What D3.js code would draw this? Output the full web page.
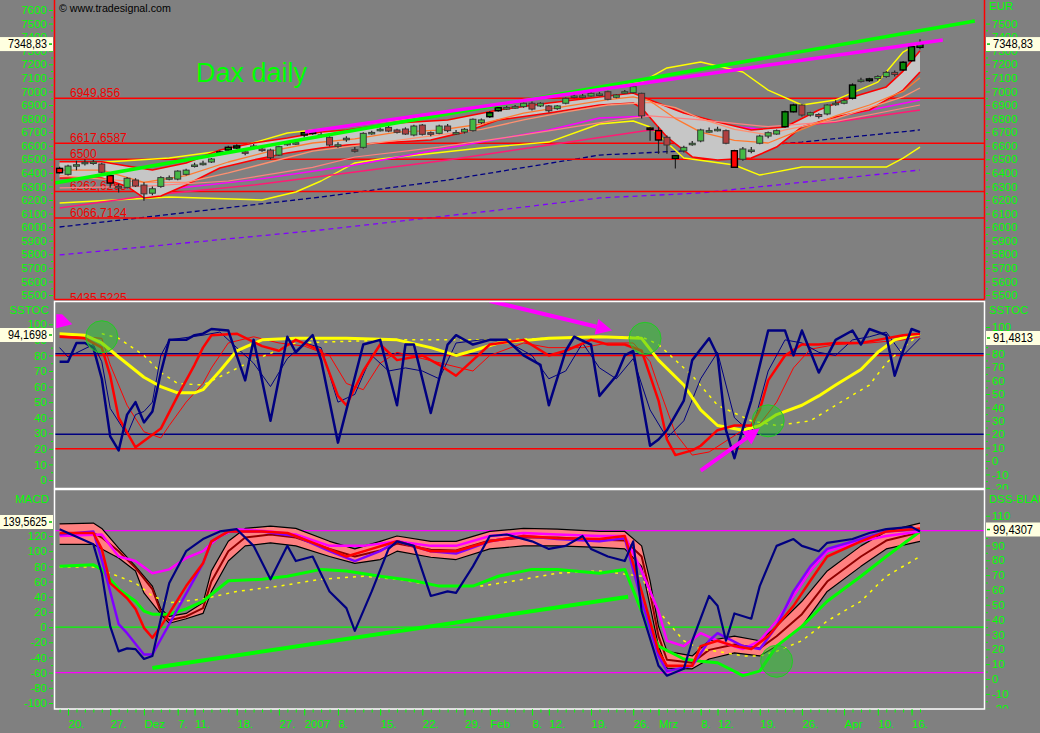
<!DOCTYPE html>
<html><head><meta charset="utf-8">
<script src="https://cdn.jsdelivr.net/npm/d3@7"></script>
<style>
body{margin:0;background:#808080;}
svg{display:block;}
text{font-family:"Liberation Sans",Arial,sans-serif;}
</style>
</head><body>
<svg id="c" width="1040" height="733"></svg>
<script>
// ---------------- DATA ----------------
const dates = ["2006-11-17","2006-11-20","2006-11-21","2006-11-22","2006-11-23","2006-11-24","2006-11-27","2006-11-28","2006-11-29","2006-11-30",
"2006-12-01","2006-12-04","2006-12-05","2006-12-06","2006-12-07","2006-12-08","2006-12-11","2006-12-12","2006-12-13","2006-12-14","2006-12-15","2006-12-18","2006-12-19","2006-12-20","2006-12-21","2006-12-22","2006-12-27","2006-12-28","2006-12-29",
"2007-01-02","2007-01-03","2007-01-04","2007-01-05","2007-01-08","2007-01-09","2007-01-10","2007-01-11","2007-01-12","2007-01-15","2007-01-16","2007-01-17","2007-01-18","2007-01-19","2007-01-22","2007-01-23","2007-01-24","2007-01-25","2007-01-26","2007-01-29","2007-01-30","2007-01-31",
"2007-02-01","2007-02-02","2007-02-05","2007-02-06","2007-02-07","2007-02-08","2007-02-09","2007-02-12","2007-02-13","2007-02-14","2007-02-15","2007-02-16","2007-02-19","2007-02-20","2007-02-21","2007-02-22","2007-02-23","2007-02-26","2007-02-27","2007-02-28",
"2007-03-01","2007-03-02","2007-03-05","2007-03-06","2007-03-07","2007-03-08","2007-03-09","2007-03-12","2007-03-13","2007-03-14","2007-03-15","2007-03-16","2007-03-19","2007-03-20","2007-03-21","2007-03-22","2007-03-23","2007-03-26","2007-03-27","2007-03-28","2007-03-29","2007-03-30",
"2007-04-02","2007-04-03","2007-04-04","2007-04-05","2007-04-10","2007-04-11","2007-04-12","2007-04-13","2007-04-16","2007-04-17"];

const open  = [6433,6389,6455,6470,6475,6465,6380,6300,6293,6347,6310,6250,6300,6360,6354,6389,6455,6468,6480,6539,6568,6583,6555,6596,6575,6568,6531,6615,6620,6679,6690,6680,6662,6605,6650,6570,6588,6694,6718,6735,6716,6723,6679,6752,6696,6691,6745,6695,6701,6711,6770,6814,6858,6878,6885,6888,6913,6893,6893,6873,6913,6964,6965,6966,6980,6998,6957,6996,6991,6986,6730,6711,6662,6507,6562,6615,6635,6710,6720,6711,6563,6500,6565,6618,6671,6686,6740,6850,6900,6826,6830,6834,6910,6913,6950,7080,7080,7095,7110,7140,7158,7226,7325];
const high  = [6445,6460,6490,6500,6495,6475,6385,6320,6370,6360,6330,6300,6375,6380,6420,6430,6475,6490,6510,6565,6600,6610,6575,6612,6595,6578,6600,6630,6640,6700,6715,6700,6670,6625,6670,6590,6700,6710,6735,6745,6725,6735,6755,6760,6705,6755,6760,6715,6730,6800,6800,6855,6885,6895,6900,6920,6925,6920,6900,6900,6955,6985,6982,6995,6995,7005,6980,7010,7045,6990,6740,6740,6675,6530,6600,6635,6725,6735,6740,6720,6570,6590,6590,6680,6705,6720,6860,6910,6905,6850,6840,6905,6935,6945,7060,7100,7100,7120,7150,7155,7225,7340,7384];
const low   = [6395,6380,6420,6455,6460,6395,6290,6255,6285,6295,6195,6235,6290,6345,6345,6380,6440,6455,6472,6530,6560,6575,6530,6585,6555,6500,6525,6600,6605,6660,6680,6660,6595,6585,6630,6550,6580,6680,6705,6700,6690,6680,6670,6675,6670,6685,6700,6680,6690,6705,6760,6805,6850,6865,6872,6880,6860,6885,6845,6865,6905,6950,6950,6960,6965,6935,6950,6985,6985,6800,6637,6540,6540,6433,6550,6600,6625,6695,6705,6610,6440,6490,6545,6610,6655,6680,6735,6845,6815,6815,6800,6825,6895,6905,6940,7065,7070,7080,7100,7110,7150,7220,7310];
const close = [6401,6450,6460,6478,6480,6404,6325,6290,6360,6303,6245,6283,6365,6364,6413,6420,6458,6471,6502,6554,6588,6598,6551,6598,6573,6512,6593,6618,6622,6696,6705,6679,6605,6607,6655,6568,6691,6698,6721,6708,6699,6686,6745,6684,6684,6745,6711,6697,6721,6795,6790,6843,6880,6881,6888,6913,6870,6913,6858,6893,6949,6966,6967,6986,6981,6942,6974,6998,7035,6820,6720,6642,6605,6526,6588,6618,6716,6711,6721,6618,6441,6576,6568,6671,6696,6711,6850,6900,6826,6843,6815,6900,6913,6932,7047,7084,7092,7110,7140,7125,7215,7330,7349];
const signalUp   = [19,20,21,29,30,51,52,73,86,87,94,96,100,101,102];
const signalDown = [0,6,70,71,80];

// price-panel indicator lines: [day index, price]
const bandUpper = [[0,6482],[5,6482],[8,6450],[11,6421],[15,6473],[19,6568],[23,6620],[27,6657],[31,6701],[34,6716],[40,6767],[46,6789],[52,6863],[58,6915],[64,6959],[68,6988],[70,6937],[74,6841],[78,6775],[82,6716],[86,6738],[90,6863],[94,6959],[98,7033],[100,7150],[102,7300]];
const bandLower = [[0,6362],[5,6362],[8,6300],[10,6215],[12,6230],[15,6310],[19,6436],[23,6495],[27,6546],[31,6583],[34,6605],[40,6627],[44,6642],[48,6700],[52,6789],[58,6841],[64,6900],[68,6915],[69,6878],[72,6664],[75,6517],[78,6495],[82,6509],[85,6590],[88,6738],[92,6812],[96,6863],[100,7010],[102,7143]];
const maOrange  = [[0,6420],[5,6420],[10,6330],[15,6380],[20,6480],[25,6560],[30,6620],[35,6650],[40,6700],[45,6715],[50,6760],[55,6840],[60,6890],[65,6940],[68,6960],[70,6930],[73,6800],[76,6700],[80,6640],[84,6620],[88,6720],[92,6820],[96,6900],[100,7000],[102,7100]];
const maSalmon  = [[0,6380],[10,6330],[15,6330],[20,6400],[25,6480],[30,6560],[35,6600],[40,6640],[45,6680],[50,6720],[55,6790],[60,6850],[65,6900],[70,6920],[73,6880],[76,6800],[80,6720],[84,6680],[86,6716],[88,6740],[92,6800],[96,6880],[100,6960],[102,7025]];
const maRose    = [[0,6290],[10,6300],[20,6340],[30,6440],[35,6517],[45,6590],[55,6680],[65,6780],[70,6820],[76,6790],[84,6740],[92,6780],[102,6900]];
const maMagenta = [[12,6274],[23,6348],[31,6421],[35,6458],[46,6583],[58,6716],[64,6804],[70,6819],[76,6767],[84,6716],[92,6812],[102,6937]];
const maPink    = [[0,6141],[11,6237],[23,6310],[35,6406],[46,6495],[58,6605],[70,6716],[76,6701],[80,6694],[92,6775],[102,6863]];
const envUpper  = [[0,6458],[13,6509],[20,6568],[27,6694],[32,6730],[40,6789],[52,6900],[64,7033],[69,7069],[72,7173],[76,7217],[81,7143],[84,7010],[88,6900],[92,6937],[97,7069],[100,7290],[102,7360]];
const envLower  = [[0,6178],[13,6222],[24,6200],[28,6259],[31,6340],[35,6473],[38,6502],[50,6583],[58,6627],[64,6760],[68,6782],[70,6738],[74,6509],[80,6458],[83,6384],[88,6443],[98,6443],[100,6509],[102,6590]];
const maNavy    = [[0,6001],[31,6222],[46,6347],[64,6531],[76,6568],[88,6627],[102,6716]];
const maPurple  = [[0,5795],[31,5979],[53,6133],[64,6215],[76,6252],[102,6421]];
const trendGreen   = [[-0.55,6325],[108.5,7519]];
const trendMagenta = [[29.1,6701],[104.7,7379]];
const levels      = [6949.856,6617.6587,6500,6262.6263,6066.7124,5435.5225];
const levelLabels = ["6949,856","6617,6587","6500","6262,6263","6066,7124","5435,5225"];

// SSTOC panel: [day index, value]
const stochFast = [[0,76],[1,76],[2,88],[3,88],[4,85],[5,65],[6,28],[7,19],[8,42],[9,50],[10,37],[11,44],[12,69],[13,90],[14,90],[15,90],[16,93],[17,94],[18,97],[20,96],[22,64],[23,90],[24,64],[25,38],[27,92],[28,82],[30,93],[31,77],[33,24],[34,45],[36,87],[38,90],[40,48],[41,87],[42,87],[44,43],[46,87],[47,93],[49,87],[51,90],[53,90],[55,80],[57,74],[58,48],[60,83],[61,92],[63,87],[64,54],[66,67],[67,80],[68,83],[70,22],[71,26],[72,32],[74,51],[75,77],[77,91],[78,80],[79,32],[80,14],[81,33],[82,51],[84,96],[86,96],[87,80],[88,96],[90,69],[92,90],[94,96],[95,87],[96,97],[98,93],[99,67],[100,83],[101,97],[102,95]];
const stochFastD = [[0,85],[1,79],[4,87],[5,76],[6,46],[8,29],[9,42],[10,44],[11,50],[12,80],[13,90],[17,93],[19,95],[21,85],[23,75],[25,60],[27,78],[29,88],[31,85],[33,50],[35,55],[37,80],[39,70],[41,72],[43,70],[45,65],[47,88],[50,90],[53,89],[56,80],[58,65],[60,70],[62,88],[64,72],[66,65],[68,78],[70,45],[72,27],[74,38],[76,65],[78,82],[80,40],[82,30],[84,70],[86,90],[88,88],[90,82],[92,80],[94,90],[96,92],[98,95],[100,80],[102,91]];
const stochSlow = [[0,92],[3,91],[5,85],[6,67],[7,40],[9,21],[11,29],[12,33],[14,54],[16,74],[17,85],[18,93],[21,94],[24,86],[26,83],[28,90],[31,83],[33,54],[34,48],[36,70],[38,87],[40,77],[43,80],[45,74],[47,67],[49,77],[51,87],[55,90],[58,80],[60,83],[63,90],[65,87],[67,87],[69,83],[71,51],[72,26],[73,16],[75,19],[76,22],[78,32],[80,35],[82,35],[83,45],[84,64],[86,80],[88,87],[90,87],[92,88],[95,88],[97,90],[100,93],[102,94]];
const stochSlowD = [[0,93],[5,91],[6,74],[8,48],[10,31],[12,27],[13,35],[15,50],[17,62],[18,72],[20,88],[23,92],[26,88],[29,86],[32,80],[34,62],[36,58],[38,75],[40,82],[43,78],[46,74],[49,70],[51,80],[55,88],[58,85],[62,85],[65,88],[68,88],[70,76],[71,60],[73,30],[75,16],[77,18],[79,25],[81,32],[83,36],[85,50],[87,72],[89,84],[92,87],[96,88],[100,90],[102,92]];
const stochLong = [[0,94],[3,93],[5,88],[7,79],[10,66],[12,60],[14,56],[16,56],[17,58],[19,70],[21,83],[24,90],[28,91],[34,91],[40,90],[44,85],[47,80],[49,83],[52,88],[58,91],[64,92],[69,91],[71,77],[74,61],[76,45],[78,35],[81,32],[83,35],[85,42],[88,48],[90,54],[92,61],[95,71],[97,82],[99,90],[102,94]];
const stochLongD = [[5,94],[7,91],[10,80],[12,69],[14,62],[17,61],[23,77],[28,88],[40,90],[52,90],[64,92],[69,92],[71,87],[75,67],[78,48],[82,38],[85,35],[89,38],[92,48],[96,61],[98,75],[100,85],[102,94]];

// MACD / DSS panel: [day index, value]
const ribbonUpper = [[0,136],[4,137],[5,130],[7,104],[9,80],[11,54],[12,24],[13,14],[15,18],[17,32],[18,74],[20,113],[22,130],[25,133],[28,130],[32,113],[35,103],[38,113],[40,120],[44,113],[47,113],[51,126],[55,130],[59,129],[64,126],[67,126],[69,107],[70,61],[71,1],[72,-32],[75,-38],[77,-18],[80,-12],[83,-18],[85,1],[88,34],[91,74],[95,107],[98,126],[102,137]];
const ribbonLower = [[0,109],[4,109],[5,103],[7,91],[9,74],[10,45],[12,17],[13,5],[15,11],[17,18],[18,47],[20,87],[22,107],[25,111],[28,107],[32,93],[35,84],[38,89],[40,100],[44,92],[47,89],[51,103],[55,107],[59,107],[64,105],[67,103],[69,80],[70,28],[71,-25],[72,-54],[75,-55],[77,-42],[80,-34],[83,-38],[85,-25],[88,1],[91,47],[95,80],[98,103],[102,113]];
const ribbonMid = [[0,122],[4,124],[5,118],[7,100],[9,78],[11,50],[12,20],[13,9],[15,14],[17,25],[18,60],[20,100],[22,118],[25,122],[28,118],[32,103],[35,93],[38,101],[40,110],[44,102],[47,101],[51,114],[55,118],[59,118],[64,115],[67,114],[69,93],[70,45],[71,-12],[72,-43],[75,-47],[77,-30],[80,-23],[83,-28],[85,-12],[88,17],[91,60],[95,93],[98,114],[102,125]];
const macdMagenta = [[0,120],[5,122],[7,93],[9,87],[11,71],[13,76],[15,91],[17,100],[19,120],[21,129],[25,126],[28,122],[32,107],[36,107],[40,113],[44,107],[47,107],[51,120],[55,124],[59,122],[64,120],[67,120],[69,74],[71,21],[72,-18],[74,-25],[76,-8],[78,-18],[81,-29],[83,-18],[85,8],[87,41],[89,74],[91,100],[95,113],[98,120],[102,126]];
const macdRed = [[0,124],[4,124],[5,103],[6,58],[8,38],[9,24],[10,-1],[11,-14],[12,1],[13,18],[15,54],[17,84],[18,113],[20,126],[24,126],[27,124],[31,107],[34,93],[37,103],[40,113],[44,100],[47,100],[51,113],[55,120],[59,117],[64,116],[67,120],[69,47],[71,-32],[72,-51],[75,-51],[76,-25],[78,-18],[80,-25],[82,-29],[84,-12],[87,28],[89,61],[91,93],[95,113],[98,126],[102,130]];
const macdPurple = [[0,122],[4,126],[5,89],[7,4],[8,-8],[10,-36],[11,-36],[12,-16],[14,24],[17,84],[18,113],[20,126],[24,126],[28,120],[32,100],[35,87],[38,100],[40,113],[44,100],[47,97],[51,113],[55,120],[59,116],[64,113],[67,117],[69,34],[71,-38],[72,-58],[75,-51],[77,-18],[78,-8],[81,-25],[83,-29],[85,1],[87,47],[89,80],[91,103],[95,116],[98,126],[102,129]];
const macdGreen = [[0,80],[4,82],[5,76],[7,50],[9,34],[10,21],[11,17],[13,17],[15,24],[17,34],[20,61],[24,63],[27,67],[31,76],[34,74],[38,67],[42,61],[45,54],[49,54],[52,67],[56,76],[59,76],[64,71],[67,76],[69,21],[71,-25],[74,-42],[76,-45],[78,-47],[81,-64],[83,-58],[85,-25],[88,1],[91,34],[95,67],[98,93],[102,126]];
const macdYellow = [[0,79],[4,79],[6,71],[9,58],[11,41],[13,32],[17,37],[21,47],[26,54],[31,63],[36,67],[40,63],[45,54],[50,54],[55,63],[59,71],[64,74],[69,67],[71,21],[74,-18],[76,-29],[78,-32],[81,-38],[83,-38],[85,-32],[88,-18],[91,8],[95,34],[98,67],[102,93]];
const macdNavy = [[0,129],[4,109],[5,71],[6,1],[7,-32],[8,-28],[9,-29],[10,-42],[11,-38],[12,11],[13,58],[15,100],[17,116],[19,126],[21,129],[23,107],[25,63],[27,107],[28,87],[30,93],[32,47],[34,25],[35,-5],[37,47],[39,103],[40,113],[42,107],[44,41],[46,47],[47,45],[49,80],[51,120],[53,122],[56,113],[58,103],[60,107],[62,120],[63,103],[65,93],[67,87],[68,113],[69,21],[71,-51],[72,-64],[74,-55],[75,-18],[77,41],[78,28],[79,-18],[80,18],[82,11],[83,54],[85,107],[87,116],[88,107],[90,100],[91,111],[94,116],[96,124],[98,129],[101,132],[102,126]];
const macdTrend = [[11,-54],[67.4,40]];

// axis tick values
const priceTicks = [7600,7500,7400,7300,7200,7100,7000,6900,6800,6700,6600,6500,6400,6300,6200,6100,6000,5900,5800,5700,5600,5500];
const stocTicksL = [100,90,80,70,60,50,40,30,20,10,0];
const stocTicksR = [100,90,80,70,60,50,40,30,20,10,0,-10,-20];
const macdTicksL = [140,120,100,80,60,40,20,0,-20,-40,-60,-80,-100];
const dssTicksR  = [110,100,90,80,70,60,50,40,30,20,10,0,-10,-20];
const tickDates  = ["2006-11-20","2006-11-27","2006-12-01","2006-12-07","2006-12-11","2006-12-18","2006-12-27","2007-01-02","2007-01-08","2007-01-15","2007-01-22","2007-01-29","2007-02-01","2007-02-08","2007-02-12","2007-02-19","2007-02-26","2007-03-01","2007-03-08","2007-03-12","2007-03-19","2007-03-26","2007-04-02","2007-04-10","2007-04-16"];
const tickLabels = ["20.","27.","Dez","7.","11.","18.","27.","2007","8.","15.","22.","29.","Feb","8.","12.","19.","26.","Mrz","8.","12.","19.","26.","Apr","10.","16."];
const lastValues = {price:"7348,83", stocL:"94,1698", stocR:"91,4813", macdL:"139,5625", dssR:"99,4307"};

// ---------------- LAYOUT ----------------
const svg = d3.select("#c");
const L = 54.5, R = 984.5;
const FONT = "Liberation Sans, Arial, sans-serif";
const FS = 11.5;
svg.append("rect").attr("width",1040).attr("height",733).attr("fill","#808080");

const defs = svg.append("defs");
function clip(id,x,y,w,h){ defs.append("clipPath").attr("id",id).append("rect").attr("x",x).attr("y",y).attr("width",w).attr("height",h); }
clip("cTop",L,0,R-L,299);
clip("cMid",L,301.5,R-L,187);
clip("cBot",L,489.5,R-L,219.5);
clip("aTop",0,0,1040,299);
clip("aMid",0,300,1040,189.5);
clip("aBot",0,489.5,1040,219);

// scales
const xd = d3.scalePoint().domain(dates).range([59.6,920]);
const xi = d3.scaleLinear().domain([0,dates.length-1]).range([59.6,920]);
const yP  = d3.scaleLinear().domain([5500,7600]).range([295,10]);
const yML = d3.scaleLinear().domain([0,100]).range([480,324.3]);
const yMR = d3.scaleLinear().domain([0,100]).range([461,327]);
const yBL = d3.scaleLinear().domain([-100,120]).range([703,536]);
const yBR = d3.scaleLinear().domain([0,110]).range([679,515.7]);

const gTop = svg.append("g").attr("clip-path","url(#cTop)");
const gMid = svg.append("g").attr("clip-path","url(#cMid)");
const gBot = svg.append("g").attr("clip-path","url(#cBot)");

function path(g,data,ys,color,w,dash){
  const ln = d3.line().x(d=>xi(d[0])).y(d=>ys(d[1]));
  const p = g.append("path").attr("d",ln(data)).attr("fill","none").attr("stroke",color).attr("stroke-width",w).attr("stroke-linejoin","round");
  if(dash) p.attr("stroke-dasharray",dash);
  return p;
}
function band(g,up,lo,ys,fill,edge,ew){
  const ln = d3.line().x(d=>xi(d[0])).y(d=>ys(d[1]));
  g.append("path").attr("d",ln(up.concat(lo.slice().reverse()))+"Z").attr("fill",fill).attr("stroke","none");
  path(g,up,ys,edge,ew); path(g,lo,ys,edge,ew);
}

// ---------------- TOP PANEL ----------------
path(gTop,maPurple,yP,"#8000ff",1.3,"5,4");
path(gTop,maNavy,yP,"#000080",1.3,"5,3");
levels.forEach((v,k)=>{
  gTop.append("line").attr("x1",L).attr("x2",R).attr("y1",yP(v)).attr("y2",yP(v)).attr("stroke","#ff0000").attr("stroke-width",1.5);
  gTop.append("text").attr("x",70).attr("y",yP(v)-1.5).attr("fill","#f00000").attr("font-size",12).text(levelLabels[k]);
});
path(gTop,envLower,yP,"#ffff00",1.4);
path(gTop,envUpper,yP,"#ffff00",1.4);
path(gTop,maPink,yP,"#ff1a75",1.4);
path(gTop,maMagenta,yP,"#ff00ff",1.4);
band(gTop,bandUpper,bandLower,yP,"#c6c6c6","#ff0000",1.6);
path(gTop,maRose,yP,"#ff8080",1.2);
path(gTop,maSalmon,yP,"#ff9070",1.3);
path(gTop,maOrange,yP,"#ff7a30",1.3);

// candles
const cw = 6;
dates.forEach((d,i)=>{
  const x = xd(d);
  const up = close[i] >= open[i];
  const hu = signalUp.includes(i), hd = signalDown.includes(i);
  gTop.append("line").attr("x1",x).attr("x2",x).attr("y1",yP(high[i])).attr("y2",yP(low[i])).attr("stroke","#202020").attr("stroke-width",1.2);
  const y0 = yP(Math.max(open[i],close[i])), y1 = yP(Math.min(open[i],close[i]));
  let fill = up ? "#44b944" : "#b04040";
  if(hu) fill = "#0a8a0a";
  if(hd) fill = "#ff0000";
  gTop.append("rect").attr("x",x-cw/2).attr("y",y0).attr("width",cw).attr("height",Math.max(1.5,y1-y0))
    .attr("fill",fill).attr("stroke",(hu||hd)?"#000":"#383838").attr("stroke-width",(hu||hd)?1.4:1);
});
path(gTop,trendGreen,yP,"#00ff00",3.5);
path(gTop,trendMagenta,yP,"#ff00ff",3.5);

svg.append("text").attr("x",196).attr("y",82).attr("fill","#00ff00").attr("font-size",27).text("Dax daily");
svg.append("text").attr("x",59).attr("y",11.5).attr("fill","#000").attr("font-size",10.7).text("© www.tradesignal.com");

// ---------------- MIDDLE PANEL ----------------
[80,20].forEach(v=>gMid.append("line").attr("x1",L).attr("x2",R).attr("y1",yMR(v)).attr("y2",yMR(v)).attr("stroke","#000080").attr("stroke-width",1.5));
[80,20].forEach(v=>gMid.append("line").attr("x1",L).attr("x2",R).attr("y1",yML(v)).attr("y2",yML(v)).attr("stroke","#ff0000").attr("stroke-width",1.5));
path(gMid,stochLongD,yML,"#ffff00",1.5,"3,5");
path(gMid,stochSlowD,yML,"#ff0000",1);
path(gMid,stochFastD,yML,"#000080",1);
path(gMid,stochLong,yML,"#ffff00",3);
path(gMid,stochSlow,yML,"#ff0000",2.5);
path(gMid,stochFast,yML,"#000080",2.5);

function circ(g,i,v,ys){ g.append("circle").attr("cx",xi(i)).attr("cy",ys(v)).attr("r",16).attr("fill","rgba(40,200,40,0.5)").attr("stroke","#22cc22").attr("stroke-width",1); }
circ(gMid,5,92,yML); circ(gMid,69.4,91,yML); circ(gMid,84,38,yML);

function arrow(g,a,b,ys){
  const x1=xi(a[0]),y1=ys(a[1]),x2=xi(b[0]),y2=ys(b[1]);
  const ang=Math.atan2(y2-y1,x2-x1), hl=16, hw=8;
  const bx=x2-hl*Math.cos(ang), by=y2-hl*Math.sin(ang);
  g.append("line").attr("x1",x1).attr("y1",y1).attr("x2",bx).attr("y2",by).attr("stroke","#ff00ff").attr("stroke-width",4);
  const px=-Math.sin(ang)*hw, py=Math.cos(ang)*hw;
  g.append("polygon").attr("points",`${x2},${y2} ${bx+px},${by+py} ${bx-px},${by-py}`).attr("fill","#ff00ff");
}
arrow(gMid,[51,115],[65.5,96],yML);
arrow(gMid,[76,6],[83,33],yML);
gMid.append("polygon").attr("points",[[-0.4,106.5],[0.3,106.5],[1.5,100],[-0.4,97.5]].map(p=>xi(p[0])+","+yML(p[1])).join(" ")).attr("fill","#ff00ff");

// ---------------- BOTTOM PANEL ----------------
gBot.append("line").attr("x1",L).attr("x2",R).attr("y1",yBR(100)).attr("y2",yBR(100)).attr("stroke","#ff00ff").attr("stroke-width",1.3);
gBot.append("line").attr("x1",L).attr("x2",R).attr("y1",yBL(0)).attr("y2",yBL(0)).attr("stroke","#00ff00").attr("stroke-width",1.3);
gBot.append("line").attr("x1",L).attr("x2",R).attr("y1",yBL(-60)).attr("y2",yBL(-60)).attr("stroke","#ff00ff").attr("stroke-width",1.3);
band(gBot,ribbonUpper,ribbonLower,yBL,"#ff8080","#000000",1.2);
path(gBot,ribbonMid,yBL,"#900000",2);
path(gBot,macdYellow,yBL,"#ffff00",1.5,"3,5");
path(gBot,macdGreen,yBL,"#00ff00",3);
path(gBot,macdMagenta,yBL,"#ff00ff",2.5);
path(gBot,macdPurple,yBL,"#8000ff",2.5);
path(gBot,macdRed,yBL,"#ff0000",2.5);
path(gBot,macdNavy,yBL,"#000080",2.2);
path(gBot,macdTrend,yBL,"#00ff00",4);
circ(gBot,85,-45,yBL);

// ---------------- FRAMES ----------------
svg.append("line").attr("x1",L).attr("x2",L).attr("y1",0).attr("y2",299.5).attr("stroke","#ff0000").attr("stroke-width",1.5);
svg.append("line").attr("x1",R).attr("x2",R).attr("y1",0).attr("y2",299.5).attr("stroke","#ff0000").attr("stroke-width",1.5);
svg.append("line").attr("x1",L).attr("x2",R).attr("y1",299.5).attr("y2",299.5).attr("stroke","#ff0000").attr("stroke-width",1.5);
svg.append("rect").attr("x",L).attr("y",301.5).attr("width",R-L).attr("height",187).attr("fill","none").attr("stroke","#ffffff").attr("stroke-width",1.5);
svg.append("rect").attr("x",L).attr("y",489.5).attr("width",R-L).attr("height",219.5).attr("fill","none").attr("stroke","#ffffff").attr("stroke-width",1.5);

// ---------------- AXES ----------------
function yAxis(scale,side,x,majors,minorStep,clipId){
  const g = svg.append("g").attr("clip-path",`url(#${clipId})`);
  const mk = side==="left"?d3.axisLeft:d3.axisRight;
  const ext = d3.extent(majors);
  const minors = d3.range(ext[0], ext[1]+0.001, minorStep).filter(v=>!majors.includes(v));
  const gm = g.append("g").attr("transform",`translate(${x},0)`).call(mk(scale).tickValues(minors).tickSize(2).tickFormat(""));
  gm.select(".domain").remove(); gm.attr("color","#00ff00");
  const ga = g.append("g").attr("transform",`translate(${x},0)`).call(mk(scale).tickValues(majors).tickSize(4).tickPadding(2).tickFormat(d=>String(d)));
  ga.select(".domain").remove();
  ga.attr("color","#00ff00").attr("font-size",FS).attr("font-family",FONT);
}
yAxis(yP,"left",53,priceTicks,50,"aTop");
yAxis(yP,"right",986,priceTicks.filter(v=>v<=7500),50,"aTop");
yAxis(yML,"left",53,stocTicksL,5,"aMid");
yAxis(yMR,"right",986,stocTicksR,5,"aMid");
yAxis(yBL,"left",53,macdTicksL,10,"aBot");
yAxis(yBR,"right",986,dssTicksR,5,"aBot");

function lab(x,y,t,anchor){ svg.append("text").attr("x",x).attr("y",y).attr("fill","#00ff00").attr("font-size",FS).attr("text-anchor",anchor).text(t); }
lab(989,10,"EUR","start");
lab(49,314,"SSTOC","end");
lab(989,314,"SSTOC","start");
lab(49,503,"MACD","end");
lab(989,503,"DSS-BLAU","start");

// x axis
const gx = svg.append("g").attr("transform","translate(0,709.5)");
const axMinor = gx.append("g").call(d3.axisBottom(xd).tickValues(dates).tickSize(3).tickFormat(""));
axMinor.select(".domain").remove(); axMinor.attr("color","#00ff00");
const axMajor = gx.append("g").call(d3.axisBottom(xd).tickValues(tickDates).tickSize(6).tickPadding(4).tickFormat((d,k)=>tickLabels[k]));
axMajor.select(".domain").remove();
axMajor.attr("color","#00ff00").attr("font-size",FS).attr("font-family",FONT);
axMajor.selectAll("text").attr("text-anchor","start").attr("y",10).attr("dy","0.71em");

// value boxes
function box(x,y,w,t,side){
  svg.append("rect").attr("x",x).attr("y",y).attr("width",w).attr("height",14).attr("fill","#ffffe0");
  if(side==="left"){
    const tl = t.length>7?44:39;
    svg.append("text").attr("x",47).attr("y",y+11.2).attr("text-anchor","end").attr("fill","#000").attr("font-size",12)
      .attr("textLength",tl).attr("lengthAdjust","spacingAndGlyphs").text(t);
    svg.append("line").attr("x1",x+w-4).attr("x2",x+w-1).attr("y1",y+7).attr("y2",y+7).attr("stroke","#00c000").attr("stroke-width",1.5);
  } else {
    svg.append("line").attr("x1",x+1).attr("x2",x+4).attr("y1",y+7).attr("y2",y+7).attr("stroke","#00c000").attr("stroke-width",1.5);
    svg.append("text").attr("x",x+7).attr("y",y+11.2).attr("fill","#000").attr("font-size",12)
      .attr("textLength",40).attr("lengthAdjust","spacingAndGlyphs").text(t);
  }
}
box(0,yP(7348.83)-7,53,lastValues.price,"left");
box(986,yP(7348.83)-7,54,lastValues.price,"right");
box(0,328,53,lastValues.stocL,"left");
box(986,331,54,lastValues.stocR,"right");
box(0,515,53,lastValues.macdL,"left");
box(986,522.5,54,lastValues.dssR,"right");
</script>
</body></html>
